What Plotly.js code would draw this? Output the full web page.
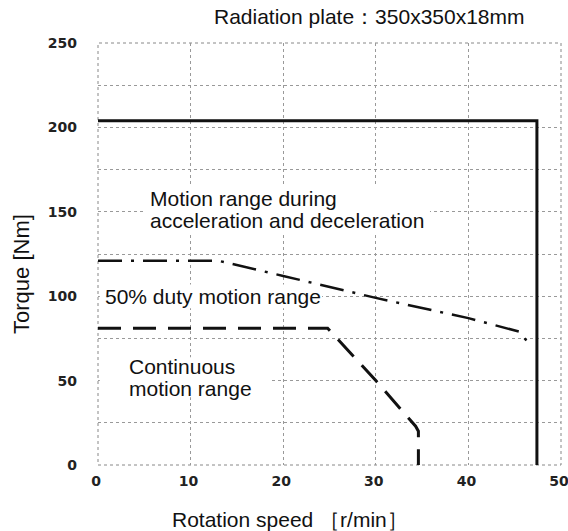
<!DOCTYPE html>
<html><head><meta charset="utf-8">
<script src="https://cdn.plot.ly/plotly-3.0.1.min.js"></script>
<style>body{margin:0;background:#fff}#c{width:568px;height:531px}</style>
</head><body><div id="c"></div>
<script>
// Acceleration/deceleration range (solid)
const accelSpeed = [0, 47.4, 47.4];
const accelTorque = [204, 204, 0];
// 50% duty range (dash-dot)
const dutySpeed = [0, 13, 20, 30, 40, 45.5, 46.8];
const dutyTorque = [121, 121, 112, 99, 87, 79, 70];
// Continuous range (dashed)
const contSpeed = [0, 24.8, 30, 34.3, 34.6, 34.6];
const contTorque = [81, 81, 50, 23, 20, 0];
const xTicks = [0, 10, 20, 30, 40, 50];
const yGrid = [0, 25, 50, 75, 100, 125, 150, 175, 200, 225, 250];
const yLabels = ['0', '', '50', '', '100', '', '150', '', '200', '', '250'];

const F = 'Liberation Sans, Arial, sans-serif';
const TF = {family: 'DejaVu Sans, sans-serif', size: 14, color: '#222', weight: 'bold'};
const traces = [
  {x: accelSpeed, y: accelTorque, mode: 'lines', line: {color: '#111', width: 3}},
  {x: dutySpeed, y: dutyTorque, mode: 'lines', line: {color: '#111', width: 2.5, dash: '24px,9px,3px,9px'}},
  {x: contSpeed, y: contTorque, mode: 'lines', line: {color: '#111', width: 3, dash: '23px,12px'}}
];
const grid = {showgrid: true, gridcolor: '#999', gridwidth: 1, griddash: 'dot', zeroline: false, showline: false};
function txt(x, y, t) {
  return {xref: 'x', yref: 'y', x: x, y: y, xanchor: 'left', yanchor: 'middle',
    showarrow: false, text: t, font: {family: F, size: 21, color: '#111'}};
}
function blank(x0, x1, y0, y1) {
  return {type: 'rect', xref: 'x', yref: 'y', x0: x0, x1: x1, y0: y0, y1: y1,
    fillcolor: '#fff', line: {width: 0}, layer: 'between'};
}
const layout = {
  width: 568, height: 531,
  margin: {l: 98, r: 7, t: 43, b: 66},
  paper_bgcolor: '#fff', plot_bgcolor: '#fff',
  showlegend: false,
  font: {family: F, color: '#111'},
  xaxis: Object.assign({}, grid, {
    range: [0, 50], tickvals: xTicks, ticktext: xTicks.map(String),
    tickfont: TF, ticks: '', ticklabelstandoff: 6, ticklabelshift: -2, ticklabeloverflow: 'allow'
  }),
  yaxis: Object.assign({}, grid, {
    range: [0, 250], tickvals: yGrid, ticktext: yLabels,
    tickfont: TF, ticks: '', ticklabelstandoff: 20, ticklabeloverflow: 'allow'
  }),
  shapes: [
    blank(5.07, 35.85, 137.1, 165.5),
    blank(0.2, 24.2, 92.8, 107),
    blank(0.2, 18.6, 40.2, 63.8),
    {type: 'rect', xref: 'paper', yref: 'paper', x0: 0, x1: 1, y0: 0, y1: 1,
     line: {color: '#888', width: 1, dash: 'dot'}, layer: 'between'}
  ],
  annotations: [
    // chart title
    {xref: 'paper', yref: 'paper', x: 0.587, y: 1 + 26 / 422, xanchor: 'center', yanchor: 'middle', showarrow: false,
     text: 'Radiation plate：350x350x18mm', font: {family: F, size: 21, color: '#111'}},
    // axis titles
    {xref: 'paper', yref: 'paper', x: 192 / 463, y: -54 / 422, xanchor: 'center', yanchor: 'middle', showarrow: false,
     text: 'Rotation speed ［r/min］', font: {family: F, size: 21, color: '#111'}},
    {xref: 'paper', yref: 'paper', x: -77 / 463, y: 191 / 422, xanchor: 'center', yanchor: 'middle', showarrow: false,
     textangle: -90, text: 'Torque [Nm]', font: {family: F, size: 22, color: '#111'}},
    // region labels
    txt(5.4, 157.8, 'Motion range during'),
    txt(5.4, 144.8, 'acceleration and deceleration'),
    txt(0.55, 99.6, '50% duty motion range'),
    txt(3.1, 58.5, 'Continuous'),
    txt(3.1, 45.5, 'motion range')
  ]
};
Plotly.newPlot('c', traces, layout, {displayModeBar: false, staticPlot: true});
</script></body></html>
